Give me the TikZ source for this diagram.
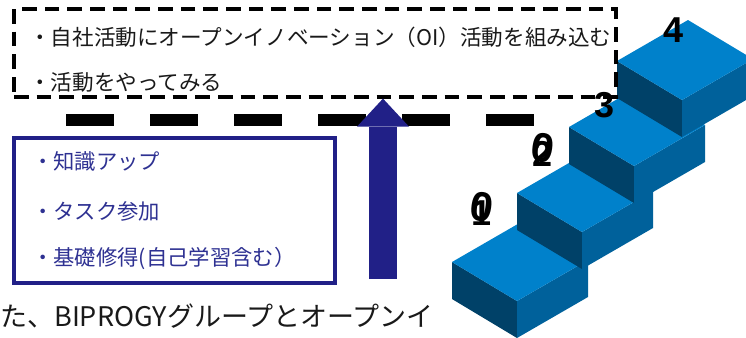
\documentclass[tikz,border=0pt]{standalone}
\usepackage{fontspec}
\setmainfont{Noto Sans CJK JP}
\newfontfamily\numfont{Liberation Sans}
\usepackage{tikz}
\usetikzlibrary{arrows.meta}
\tikzset{>=latex}

\definecolor{stairtop}{RGB}{0,129,203}
\definecolor{stairleft}{RGB}{0,65,104}
\definecolor{stairright}{RGB}{0,97,155}
\definecolor{navy}{RGB}{33,32,135}
\definecolor{skillblue}{RGB}{46,49,146}
\definecolor{inkblack}{RGB}{25,25,25}

\tikzset{
  goaltext/.style={anchor=west,inner sep=0pt,text=inkblack,font=\fontsize{16.2}{18}\selectfont},
  skilltext/.style={goaltext,text=skillblue,font=\fontsize{16}{18}\selectfont},
  goalframe/.style={draw=black,line width=2.4pt,dash pattern=on 11pt off 6pt,
    minimum width=451.5pt,minimum height=66pt,inner sep=0pt},
  skillframe/.style={draw=navy,line width=2.5pt,minimum width=240.75pt,
    minimum height=108.75pt,inner sep=0pt},
  bardash/.style={line width=9pt,dash pattern=on 36pt off 27pt},
  uparrow/.style={navy,line width=21pt,
    -{Triangle[width=39pt,length=21pt,line width=0pt]}},
  stepnum/.style={inner sep=0pt,text=black,font=\numfont\bfseries\fontsize{27}{27}\selectfont},
  stepzero/.style={stepnum,font=\numfont\bfseries\fontsize{31}{31}\selectfont,rotate=-8},
}

% one block of the stairs: front, side and top face
\newcommand{\isoblock}[2]{%
  \fill[stairleft] (#1,#2) -- ++(65,39) -- ++(0,37) -- ++(-65,-39) -- cycle;
  \fill[stairright] (#1,#2) ++(65,39) -- ++(71,-41) -- ++(0,37) -- ++(-71,41) -- cycle;
  \fill[stairtop] (#1,#2) -- ++(65,39) -- ++(71,-41) -- ++(-65,-39) -- cycle;
}

\begin{document}
\begin{tikzpicture}[x=0.75pt,y=-0.75pt]
  \useasboundingbox (0,0) rectangle (746,337);
  \clip (0,0) rectangle (746,337);

  \foreach \px/\py in {452/262,517/193,569/127,617/61}
    {\isoblock{\px}{\py}}

  \node[goalframe] (goalbox) at (315,53) {};
  \node[goaltext] (oi) at (29,37) {・自社活動にオープンイノベーション（OI）活動を組み込む};
  \node[goaltext] (try) at (29,82) {・活動をやってみる};

  \draw[bardash] (66,120) -- (534,120);

  \node[skillframe] (skillbox) at (174.5,210.5) {};
  \node[skilltext] (know) at (32,161) {・知識アップ};
  \node[skilltext] (task) at (32,211) {・タスク参加};
  \node[skilltext] (basic) at (32,258) {・基礎修得(自己学習含む）};

  \coordinate (arrowfoot) at (383,279);
  \draw[uparrow] (arrowfoot) -- (goalbox.south -| arrowfoot);

  \node[stepnum] (num4) at (674,30) {4};
  \node[stepnum] (num3) at (605,105) {3};
  \node[stepnum] (num2) at (543,154) {2};
  \node[stepzero] (zero2) at (543,148) {0};
  \node[stepnum] (num1) at (482,213) {1};
  \node[stepzero] (zero1) at (482,207) {0};

  \node[anchor=base west,inner sep=0pt,text=inkblack,
    font=\fontsize{20.25}{24}\selectfont] (caption) at (0,326)
    {た、BIPROGYグループとオープンイ};
\end{tikzpicture}
\end{document}
